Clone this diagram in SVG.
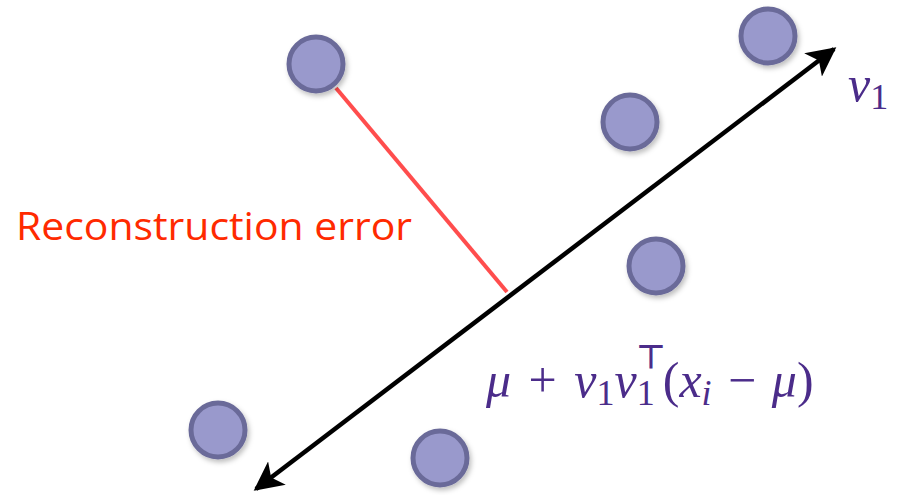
<svg xmlns="http://www.w3.org/2000/svg" width="897" height="495" viewBox="0 0 897 495">
<defs>
<filter id="sh" x="-30%" y="-30%" width="160%" height="160%"><feDropShadow dx="2" dy="3" stdDeviation="2.5" flood-color="#000" flood-opacity="0.25"/></filter>
<marker id="ah" viewBox="0 0 10 10" refX="9" refY="5" markerWidth="6.5" markerHeight="6.5" orient="auto-start-reverse" markerUnits="strokeWidth"><path d="M0,0 L10,5 L0,10 L2.5,5 Z" fill="#000"/></marker>
</defs>
<style>
.pt{fill:#9999cc;stroke:#6b6b99;stroke-width:5;filter:url(#sh)}
.m{font-family:"Liberation Serif",serif;fill:#4b2c8a}
.i{font-style:italic}
</style>
<rect width="897" height="495" fill="#fff"/>
<g id="connectors">
<line x1="336" y1="88" x2="507" y2="292" stroke="#ff4d4d" stroke-width="4"/>
<line x1="256" y1="489" x2="834" y2="49" stroke="#000" stroke-width="4.5" marker-start="url(#ah)" marker-end="url(#ah)"/>
</g>
<g id="p1"><circle class="pt" cx="316" cy="64" r="27"/></g>
<g id="p2"><circle class="pt" cx="768" cy="36" r="27"/></g>
<g id="p3"><circle class="pt" cx="630" cy="122" r="27"/></g>
<g id="p4"><circle class="pt" cx="656" cy="266" r="27"/></g>
<g id="p5"><circle class="pt" cx="218" cy="430" r="27"/></g>
<g id="p6"><circle class="pt" cx="440" cy="458" r="27"/></g>
<g id="label-error"><text x="16" y="240" font-family="'Open Sans','Liberation Sans',sans-serif" font-size="39" fill="#ff2a00" textLength="396" lengthAdjust="spacingAndGlyphs">Reconstruction error</text></g>
<g id="label-v1"><text class="m" x="848" y="101" font-size="50"><tspan class="i">v</tspan><tspan font-size="36" dy="8">1</tspan></text></g>
<g id="label-formula"><text class="m" x="486" y="397" font-size="50"><tspan class="i">μ</tspan><tspan dx="5"> + </tspan><tspan class="i" dx="5">v</tspan><tspan font-size="36" dy="8">1</tspan><tspan class="i" dy="-8">v</tspan><tspan font-size="36" dy="8">1</tspan><tspan font-family="'Liberation Sans',sans-serif" font-size="32" font-weight="bold" dx="-18" dy="-37">⊤</tspan><tspan dy="29" dx="-2">(</tspan><tspan class="i">x</tspan><tspan class="i" font-size="36" dy="8">i</tspan><tspan dy="-8" dx="4"> − </tspan><tspan class="i" dx="3">μ</tspan>)</text></g>
</svg>
